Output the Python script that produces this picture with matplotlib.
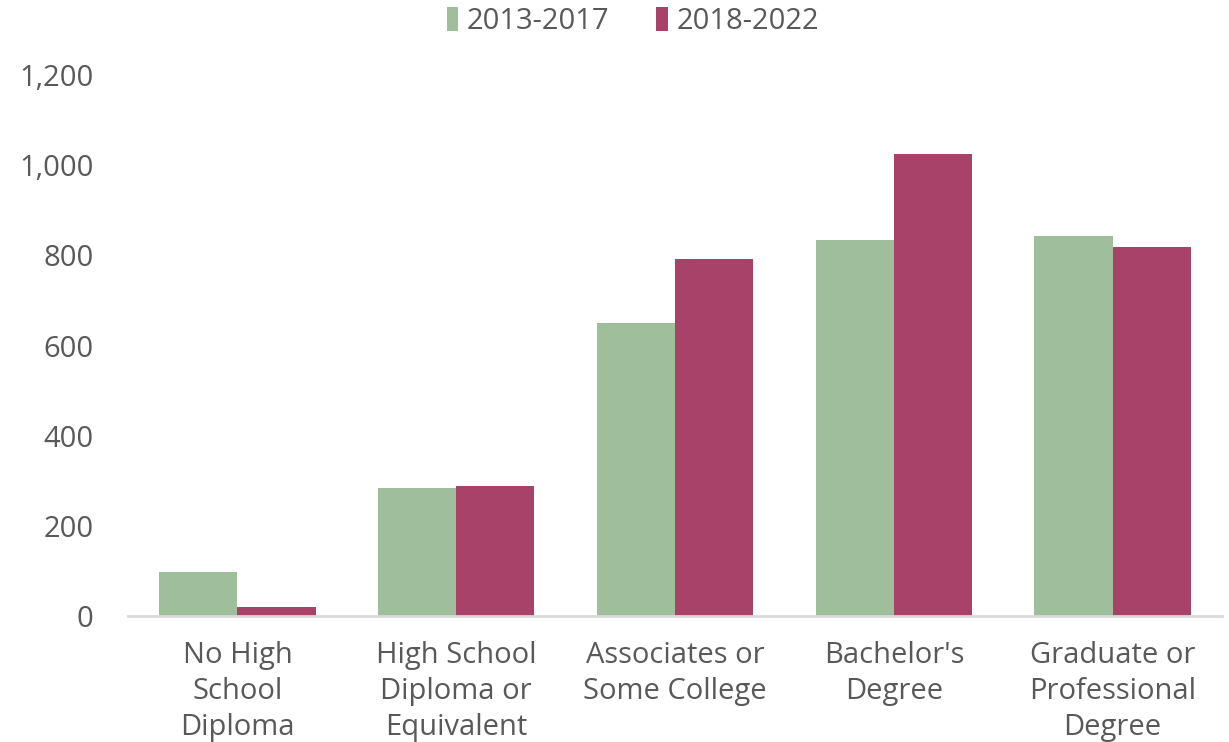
import matplotlib
matplotlib.use("Agg")
import matplotlib.pyplot as plt
import numpy as np
from matplotlib.ticker import FuncFormatter

categories = [
    "No High\nSchool\nDiploma",
    "High School\nDiploma or\nEquivalent",
    "Associates or\nSome College",
    "Bachelor's\nDegree",
    "Graduate or\nProfessional\nDegree",
]
series_names = ["2013-2017", "2018-2022"]
vals_2013_2017 = [97, 284, 650, 834, 844]
vals_2018_2022 = [21, 289, 792, 1025, 819]
yticks = [0, 200, 400, 600, 800, 1000, 1200]

GREEN = "#9FBE9C"
RED = "#A84268"
TEXT = "#595959"

plt.rcParams["font.family"] = ["Open Sans", "DejaVu Sans"]

fig = plt.figure(figsize=(12.29, 7.42), dpi=100)
ax = fig.add_axes([0.1042, 0.1698, 0.8901, 0.7291])

x = np.arange(len(categories))
w = 0.357
ax.bar(x - w / 2, vals_2013_2017, w, color=GREEN, label=series_names[0])
ax.bar(x + w / 2, vals_2018_2022, w, color=RED, label=series_names[1])

ax.set_xlim(-0.5, len(categories) - 0.5)
ax.set_ylim(0, 1200)
ax.set_yticks(yticks)
ax.yaxis.set_major_formatter(FuncFormatter(lambda v, _: f"{int(v):,}"))
ax.set_xticks(x)
ax.set_xticklabels(categories, linespacing=1.32)

for s in ("top", "right", "left"):
    ax.spines[s].set_visible(False)
ax.spines["bottom"].set_color("#D9D9D9")
ax.spines["bottom"].set_linewidth(2)
ax.tick_params(axis="both", length=0, labelsize=21, labelcolor=TEXT)
ax.tick_params(axis="y", pad=25)
ax.tick_params(axis="x", pad=18)

leg = fig.legend(loc="upper center", bbox_to_anchor=(0.515, 1.026), ncol=2,
                 frameon=False, fontsize=21, handlelength=0.4, handleheight=0.9,
                 handletextpad=0.3, columnspacing=1.6)
for t in leg.get_texts():
    t.set_color(TEXT)

fig.savefig("out.png", dpi=100)
